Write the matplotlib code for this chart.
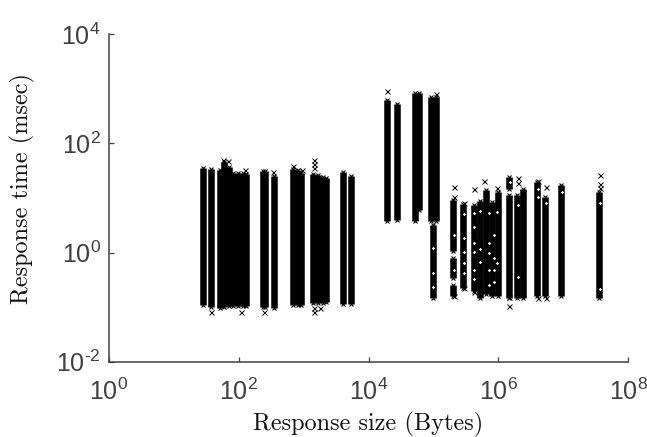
import numpy as np
import matplotlib
matplotlib.use('Agg')
import matplotlib.pyplot as plt

plt.rcParams['mathtext.fontset'] = 'custom'
plt.rcParams['mathtext.rm'] = 'Liberation Sans'
plt.rcParams['mathtext.default'] = 'rm'

GRAY = '#404040'
END_INSET = 0.03  # the x marks at the ends reach past the column a little

# log10 of size, log10 of time range for each solid column
col_size = [1.449, 1.572, 1.703, 1.773, 1.842, 1.911, 1.989, 2.066, 2.112,
            2.373, 2.404, 2.536, 2.836, 2.906, 2.960,
            3.145, 3.222, 3.299, 3.345, 3.607, 3.730,
            4.285, 4.440, 4.717, 4.771, 4.964, 5.041, 4.994,
            5.303, 5.303, 5.303, 5.457,
            5.619, 5.719, 5.811, 5.904, 5.996,
            6.166, 6.166, 6.290, 6.382, 6.598, 6.721, 6.968, 7.553]
col_high = [1.578, 1.568, 1.550, 1.697, 1.605, 1.495, 1.495, 1.495, 1.477,
            1.532, 1.532, 1.440, 1.568, 1.550, 1.495,
            1.477, 1.458, 1.422, 1.400, 1.513, 1.440,
            2.833, 2.759, 2.961, 2.961, 2.888, 2.888, 0.542,
            1.000, -0.063, -0.558, 0.927,
            0.909, 0.982, 1.183, 0.964, 1.147,
            1.422, 1.092, 1.092, 1.202, 1.330, 1.055, 1.275, 1.147]
col_low = [-0.997, -1.034, -1.052, -1.034, -1.015, -1.015, -1.015, -1.015, -1.015,
           -1.034, -1.034, -1.052, -0.997, -0.997, -0.997,
           -0.961, -0.961, -0.961, -0.943, -0.979, -0.979,
           0.542, 0.560, 0.542, 0.744, 0.542, 0.542, -0.869,
           -0.008, -0.503, -0.832, -0.685,
           -0.740, -0.869, -0.795, -0.832, -0.832,
           1.129, -0.869, -0.869, -0.869, -0.832, -0.832, -0.832, -0.869]

# isolated samples outside the solid columns
out_size = [5.314, 5.314, 5.468, 5.622, 5.776, 5.981, 6.166, 6.166, 6.300, 6.300,
            6.608, 6.732, 7.564, 7.564, 7.564, 4.285, 5.036,
            5.314, 5.468, 5.622, 6.608, 6.732,
            1.572, 2.035, 2.389, 3.160, 3.160, 3.253,
            1.757, 1.834, 2.096, 2.528, 2.836, 2.975, 3.160, 3.160, 3.160]
out_time = [1.202, 1.019, 0.914, 1.165, 1.317, 1.183, -0.814, -0.979, 1.367, 1.275,
            1.317, 1.207, 1.422, 1.257, 1.183, 2.967, 2.906,
            -0.795, -0.649, -0.717, -0.832, -0.832,
            -1.089, -1.089, -1.089, -1.015, -1.089, -1.015,
            1.697, 1.684, 1.513, 1.477, 1.587, 1.513, 1.697, 1.623, 1.550]

# light specks where the columns are not filled
gap_size = [4.994, 4.994, 4.994, 5.314, 5.314, 5.472, 5.472, 5.472, 5.472, 5.472,
            5.627, 5.627, 5.627, 5.627, 5.627, 5.627,
            5.719, 5.719, 5.719, 5.858, 5.858, 5.858, 5.858, 5.858,
            5.935, 5.935, 5.935, 5.935, 5.981, 5.981,
            6.305, 6.305, 6.613, 6.613, 6.736, 6.983, 7.569, 7.569, 6.181]
gap_time = [0.084, -0.374, -0.631, 0.322, -0.319, 0.707, 0.267, 0.011, -0.191, -0.374,
            0.725, 0.469, 0.176, 0.011, -0.319, -0.484,
            0.762, 0.066, -0.173, 0.176, -0.008, -0.319, -0.594, 0.725,
            0.322, -0.099, -0.319, -0.539, -0.191, 0.744,
            -0.447, 0.872, 1.165, 1.019, 0.909, 1.110, 0.909, -0.667, 1.293]

x_ticks = [1, 100, 10000, 1000000, 100000000]
x_labels = ['$10^{0}$', '$10^{2}$', '$10^{4}$', '$10^{6}$', '$10^{8}$']
y_ticks = [0.01, 1, 100, 10000]
y_labels = ['$10^{\\text{-}2}$', '$10^{0}$', '$10^{2}$', '$10^{4}$']

fig = plt.figure(figsize=(6.47, 4.37), dpi=100)
ax = fig.add_axes([109 / 647, 75.3 / 437, 519.3 / 647, 327.4 / 437])

sizes = 10.0 ** np.array(col_size)
lows = 10.0 ** (np.array(col_low) + END_INSET)
highs = 10.0 ** (np.array(col_high) - END_INSET)
ax.vlines(sizes, lows, highs, color='black', linewidth=4.7, capstyle='butt')
ax.plot(sizes, lows, 'x', color='black', markersize=3.0, markeredgewidth=0.8)
ax.plot(sizes, highs, 'x', color='black', markersize=3.0, markeredgewidth=0.8)
ax.plot(10.0 ** np.array(out_size), 10.0 ** np.array(out_time), 'x', color='black',
        markersize=3.6, markeredgewidth=0.7, clip_on=False)
ax.plot(10.0 ** np.array(gap_size), 10.0 ** np.array(gap_time), 'D', color='white',
        markersize=1.7, markeredgewidth=0)

ax.set_xscale('log')
ax.set_yscale('log')
ax.set_xlim(1, 1e8)
ax.set_ylim(0.01, 1e4)
ax.set_xticks(x_ticks)
ax.set_xticklabels(x_labels)
ax.set_yticks(y_ticks)
ax.set_yticklabels(y_labels)
ax.minorticks_off()

for side in ['top', 'right']:
    ax.spines[side].set_visible(False)
for side in ['left', 'bottom']:
    ax.spines[side].set_color(GRAY)
    ax.spines[side].set_linewidth(1.1)
ax.tick_params(direction='in', length=3.5, width=0.9, color=GRAY, labelcolor=GRAY,
               labelsize=18, pad=6)
ax.tick_params(axis='x', pad=12)

fig.text(368 / 647, 1 - 424 / 437, 'Response size (Bytes)', family='cmr10', fontsize=17.5,
         ha='center', va='center', color='#111111')
fig.text(22 / 647, 1 - 189 / 437, 'Response time (msec)', family='cmr10', fontsize=17.5,
         rotation=90, ha='center', va='center', color='#111111')

fig.savefig('out.png', dpi=100)
